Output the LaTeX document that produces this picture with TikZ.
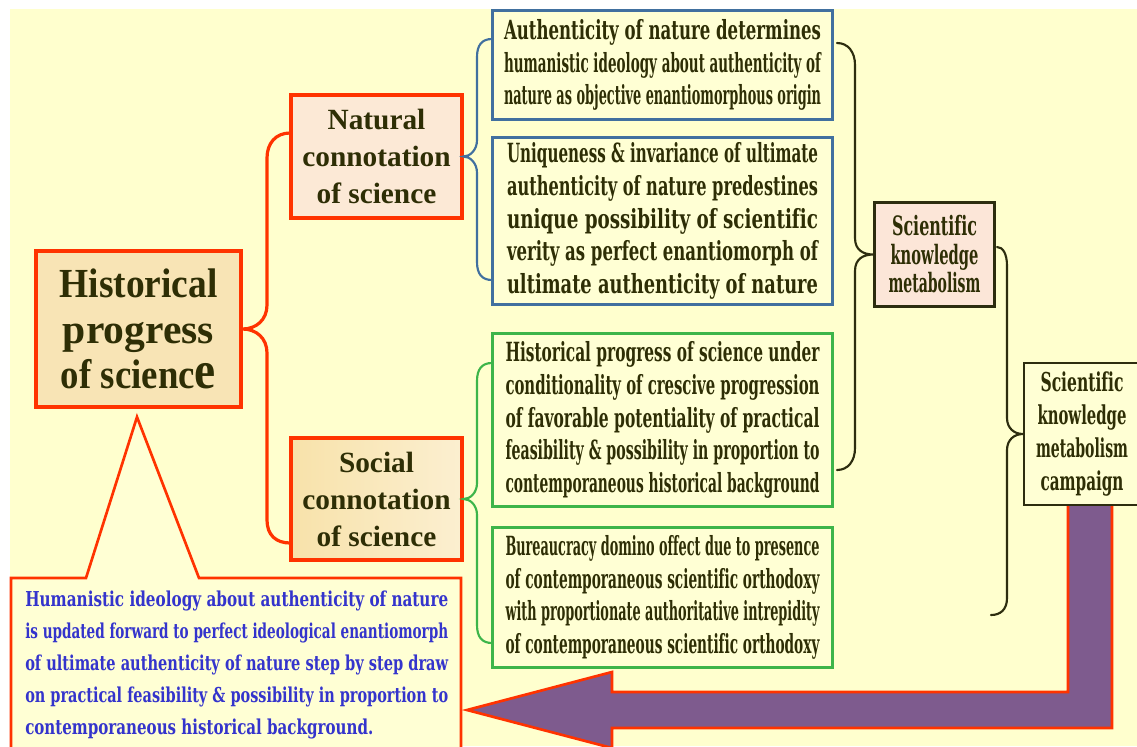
\documentclass[tikz,border=0pt]{standalone}
\usepackage{fontspec}
\usepackage{graphicx}
\newfontfamily\slab[Ligatures=NoCommon]{DejaVu Serif}
\newfontfamily\tnr{Liberation Serif}
\newdimen\pxu \pxu=0.75pt
\newcommand{\fl}[2]{\resizebox{#1\pxu}{\height}{#2}}
\definecolor{bgc}{HTML}{FFFFCE}
\definecolor{redc}{HTML}{FF3300}
\definecolor{bluec}{HTML}{41709F}
\definecolor{greenc}{HTML}{3DB54A}
\definecolor{darkc}{HTML}{2D2D0F}
\definecolor{txtc}{HTML}{2E2E05}
\definecolor{bluetxt}{HTML}{3434CC}
\definecolor{purp}{HTML}{7E5B8E}
\definecolor{mainfill}{HTML}{F8E4B5}
\definecolor{natfill}{HTML}{FCE9D6}
\definecolor{socfill}{HTML}{F8E2AA}
\definecolor{skmfill}{HTML}{FCE6D8}
\definecolor{boxfill}{HTML}{FFFFD4}
\tikzset{
  sz/.style 2 args={minimum width=#1*0.75pt, minimum height=#2*0.75pt},
  redbox/.style={draw=redc, line width=2.4pt, inner sep=0pt, align=center, text=txtc,
    font={\tnr\bfseries\fontsize{22pt}{27.75pt}\selectfont}},
  bluebox/.style={draw=bluec, fill=boxfill, line width=1.9pt, inner sep=0pt, align=center, text=txtc,
    font={\slab\bfseries\fontsize{19.8pt}{24.5pt}\selectfont}},
  greenbox/.style={bluebox, draw=greenc},
  darkbox/.style={draw=darkc, line width=1.6pt, inner sep=0pt, align=center, text=txtc},
  brc/.style={line width=1.6pt, line cap=round},
}
\begin{document}
\begin{tikzpicture}[x=0.75pt,y=-0.75pt]
\useasboundingbox (0,0) rectangle (1137,746);
\fill[white] (0,0) rectangle (1137,746);
\fill[bgc] (10,9) rectangle (1137,746);

% callout shape
\filldraw[fill=boxfill, draw=redc, line width=2pt, line join=miter]
  (11,578) -- (86,578) -- (137,417) -- (199,578) -- (461,578) -- (461,760) -- (11,760) -- cycle;
\node[anchor=north west, inner sep=0pt, align=left, text=bluetxt,
  font={\slab\bfseries\fontsize{15.4pt}{24pt}\selectfont}] (calltext) at (25,591)
  {\fl{423}{Humanistic ideology about authenticity of nature}\\
   \fl{423}{is updated forward to perfect ideological enantiomorph}\\
   \fl{423}{of ultimate authenticity of nature step by step draw}\\
   \fl{423}{on practical feasibility \& possibility in proportion to}\\
   \fl{348}{contemporaneous historical background.}};

% main nodes
\node[redbox, fill=mainfill, sz={205}{156}, font={\tnr\bfseries\fontsize{31pt}{34pt}\selectfont}] (main) at (138.5,329)
  {\fl{158}{Historical}\\\fl{151}{progress}\\\fl{155}{of scienc{\fontsize{40pt}{40pt}\selectfont e}}};
\node[redbox, fill=natfill, sz={171}{123}] (nat) at (376.5,156.5) {Natural\\connotation\\of science};
\node[redbox, left color=socfill, right color=socfill!55!white, sz={171}{122}] (soc) at (376.5,499) {Social\\connotation\\of science};

\node[bluebox, sz={340}{109}] (b1) at (662.5,65)
  {\fl{317}{Authenticity of nature determines}\\
   \fl{317}{humanistic ideology about authenticity of}\\
   \fl{317}{nature as objective enantiomorphous origin}};
\node[bluebox, sz={340}{167}] (b2) at (662.5,221)
  {\fl{311}{Uniqueness \& invariance of ultimate}\\
   \fl{311}{authenticity of nature predestines}\\
   \fl{311}{unique possibility of scientific}\\
   \fl{311}{verity as perfect enantiomorph of}\\
   \fl{311}{ultimate authenticity of nature}};
\node[greenbox, sz={340}{173}] (g1) at (662.5,420)
  {\fl{314}{Historical progress of science under}\\
   \fl{314}{conditionality of crescive progression}\\
   \fl{314}{of favorable potentiality of practical}\\
   \fl{314}{feasibility \& possibility in proportion to}\\
   \fl{314}{contemporaneous historical background}};
\node[greenbox, sz={340}{140}] (g2) at (662.5,597.5)
  {\fl{314}{Bureaucracy domino offect due to presence}\\
   \fl{314}{of contemporaneous scientific orthodoxy}\\
   \fl{314}{with proportionate authoritative intrepidity}\\
   \fl{314}{of contemporaneous scientific orthodoxy}};

\node[darkbox, fill=skmfill, sz={120}{104}, font={\slab\bfseries\fontsize{20pt}{21.4pt}\selectfont}] (skm) at (934.5,254.5)
  {\fl{85}{Scientific}\\\fl{88}{knowledge}\\\fl{92}{metabolism}};

% purple arrow
\filldraw[fill=purp, draw=redc, line width=2pt, line join=miter]
  (1068,500) -- (1112,500) -- (1112,728) -- (612,728) -- (612,748) -- (467,710)
  -- (612,672) -- (612,692) -- (1068,692) -- cycle;

\node[darkbox, fill=boxfill, sz={116}{142}, font={\slab\bfseries\fontsize{19.5pt}{24.75pt}\selectfont}] (camp) at (1082,434)
  {\fl{83}{Scientific}\\\fl{89}{knowledge}\\\fl{92}{metabolism}\\\fl{83}{campaign}};

% braces
\coordinate (rt) at (290,133);
\coordinate (rb) at (290,543);
\draw[brc, draw=redc, line width=2.4pt] (rt) .. controls (276,133) and (267,143) .. (267,158) -- (267,305)
  .. controls (267,320) and (256,329) .. (main.east)
  .. controls (256,329) and (267,338) .. (267,353) -- (267,520)
  .. controls (267,535) and (276,543) .. (rb);

\coordinate (bt) at (492,39);
\coordinate (bb) at (492,280);
\draw[brc, draw=bluec] (bt) .. controls (482,39) and (477,45) .. (477,57) -- (477,140)
  .. controls (477,150) and (470,156.5) .. (nat.east)
  .. controls (470,156.5) and (477,163) .. (477,173) -- (477,262)
  .. controls (477,274) and (482,280) .. (bb);

\coordinate (gt) at (492,363);
\coordinate (gb) at (492,643);
\draw[brc, draw=greenc] (gt) .. controls (482,363) and (477,369) .. (477,381) -- (477,483)
  .. controls (477,493) and (470,499) .. (soc.east)
  .. controls (470,499) and (477,505) .. (477,515) -- (477,625)
  .. controls (477,637) and (482,643) .. (gb);

\coordinate (dt) at (837,43);
\coordinate (db) at (837,470);
\draw[brc, draw=darkc] (dt) .. controls (848,43) and (855,52) .. (855,65) -- (855,238)
  .. controls (855,250) and (863,254.5) .. (skm.west)
  .. controls (863,254.5) and (855,259) .. (855,271) -- (855,448)
  .. controls (855,461) and (848,470) .. (db);

\coordinate (d2t) at (997,247);
\coordinate (d2b) at (991,615);
\draw[brc, draw=darkc] (d2t) .. controls (1003,247) and (1007,254) .. (1007,266) -- (1007,418)
  .. controls (1007,428) and (1014,434) .. (camp.west)
  .. controls (1014,434) and (1007,440) .. (1007,450) -- (1007,598)
  .. controls (1007,610) and (1000,615) .. (d2b);
\end{tikzpicture}
\end{document}
